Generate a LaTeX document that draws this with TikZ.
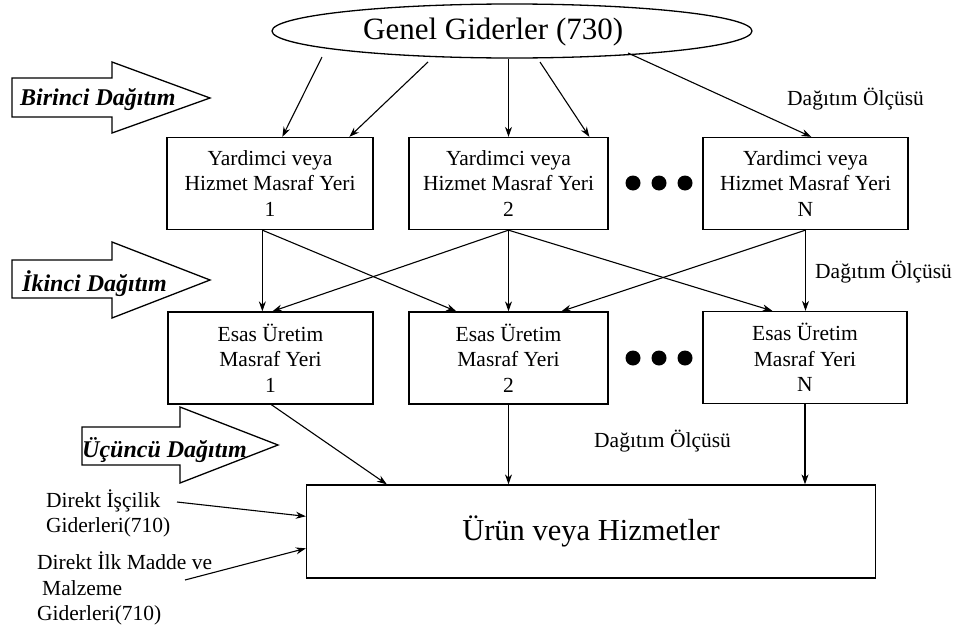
\documentclass[tikz,border=0pt]{standalone}
\usepackage{fontspec}
\setmainfont{Liberation Serif}
\usetikzlibrary{shapes.geometric,arrows.meta,calc}

\begin{document}
\begin{tikzpicture}[x=1pt,y=-1pt,
  box/.style={draw, line width=1.3pt, minimum width=#1, minimum height=92pt,
    inner sep=0pt, align=center, font=\fontsize{21.5}{25.5}\selectfont},
  arr/.style={-{Stealth[length=10pt,width=7pt]}, line width=1.1pt},
  blk/.style={draw, fill=white, line width=1.3pt, line join=miter},
  lbl/.style={inner sep=0pt, font=\fontsize{24}{28}\selectfont\bfseries\itshape},
  note/.style={inner sep=0pt, font=\fontsize{21.5}{25.5}\selectfont},
  dot/.style={fill=black}
]
\useasboundingbox (0,0) rectangle (954,632);
\fill[white] (0,0) rectangle (954,632);

% block arrows for the three distribution stages
\draw[blk] (12,78) -- (112,78) -- (112,62) -- (210,98) -- (112,133) -- (112,117) -- (12,117) -- cycle;
\draw[blk] (12,260) -- (112,260) -- (112,242) -- (210,280) -- (112,318) -- (112,298) -- (12,298) -- cycle;
\draw[blk] (82,427) -- (180,427) -- (180,407) -- (278,445) -- (180,483) -- (180,465) -- (82,465) -- cycle;
\node[lbl, anchor=base west] (l1) at (20,105) {Birinci Dağıtım};
\node[lbl, anchor=base west] (l2) at (22,291) {İkinci Dağıtım};
\node[lbl, anchor=base west] (l3) at (82,457) {Üçüncü Dağıtım};

% overhead pool
\node[draw, ellipse, line width=1.3pt, minimum width=480pt, minimum height=54pt, inner sep=0pt] (gg) at (512,31) {};
\node[inner sep=0pt, anchor=base west, font=\fontsize{31}{36}\selectfont] (ggt) at (363,39) {Genel Giderler (730)};

% service cost centres
\node[box=206pt] (y1) at (270,183.5) {Yardimci veya\\Hizmet Masraf Yeri\\1};
\node[box=199pt] (y2) at (508.5,183.5) {Yardimci veya\\Hizmet Masraf Yeri\\2};
\node[box=205pt] (yN) at (805.5,183.5) {Yardimci veya\\Hizmet Masraf Yeri\\N};

% production cost centres
\node[box=205pt] (e1) at (270.5,358) {Esas Üretim\\Masraf Yeri\\1};
\node[box=199pt] (e2) at (508.5,358) {Esas Üretim\\Masraf Yeri\\2};
\node[box=204pt] (eN) at (805,357.5) {Esas Üretim\\Masraf Yeri\\N};

% products
\node[draw, line width=1.3pt, minimum width=569pt, minimum height=93pt, inner sep=0pt,
      font=\fontsize{30.5}{36}\selectfont] (urun) at (591,531.5) {Ürün veya Hizmetler};

% ellipsis dots
\foreach \xx in {633,659,685} {
  \fill[dot] (\xx,183) circle (7.5pt);
  \fill[dot] (\xx,358) circle (7.5pt);
}

% first distribution
\coordinate (g1) at (322,57);
\coordinate (g2) at (428,62);
\coordinate (g3) at (508.5,59);
\coordinate (g4) at (540,62);
\coordinate (g5) at (628,53);
\draw[arr] (g1) -- ([xshift=116pt]y1.north west);
\draw[arr] (g2) -- ([xshift=183pt]y1.north west);
\draw[arr] (g3) -- (y2.north);
\draw[arr] (g4) -- ([xshift=181pt]y2.north west);
\draw[arr] (g5) -- ([xshift=109pt]yN.north west);
\node[note, anchor=base west] (m1) at (787,105) {Dağıtım Ölçüsü};

% second distribution
\coordinate (o1) at ([xshift=96pt]y1.south west);
\draw[arr] (o1) -- (o1 |- e1.north);
\draw[arr] (o1) -- ([xshift=48pt]e2.north west);
\draw[arr] (y2.south) -- ([xshift=105pt]e1.north west);
\draw[arr] (y2.south) -- (e2.north);
\draw[arr] (y2.south) -- ([xshift=70pt]eN.north west);
\draw[arr] (yN.south) -- ([xshift=153pt]e2.north west);
\draw[arr] (yN.south) -- (yN.south |- eN.north);
\node[note, anchor=base west] (m2) at (815,278) {Dağıtım Ölçüsü};

% third distribution
\draw[arr] ([xshift=104pt]e1.south west) -- ([xshift=81pt]urun.north west);
\draw[arr] (e2.south) -- (e2.south |- urun.north);
\draw[arr] (eN.south) -- (eN.south |- urun.north);
\node[note, anchor=base west] (m3) at (594,447) {Dağıtım Ölçüsü};

% direct costs
\node[note, anchor=west, align=left] (d1) at (46,513.5) {Direkt İşçilik\\Giderleri(710)};
\node[note, anchor=west, align=left] (d2) at (37,588.5) {Direkt İlk Madde ve\\\hspace{5pt}Malzeme\\Giderleri(710)};
\coordinate (c1) at (177,502);
\coordinate (c2) at (185,580);
\draw[arr] (c1) -- ([yshift=-32pt]urun.north west);
\draw[arr] (c2) -- ([yshift=-64pt]urun.north west);
\end{tikzpicture}
\end{document}
